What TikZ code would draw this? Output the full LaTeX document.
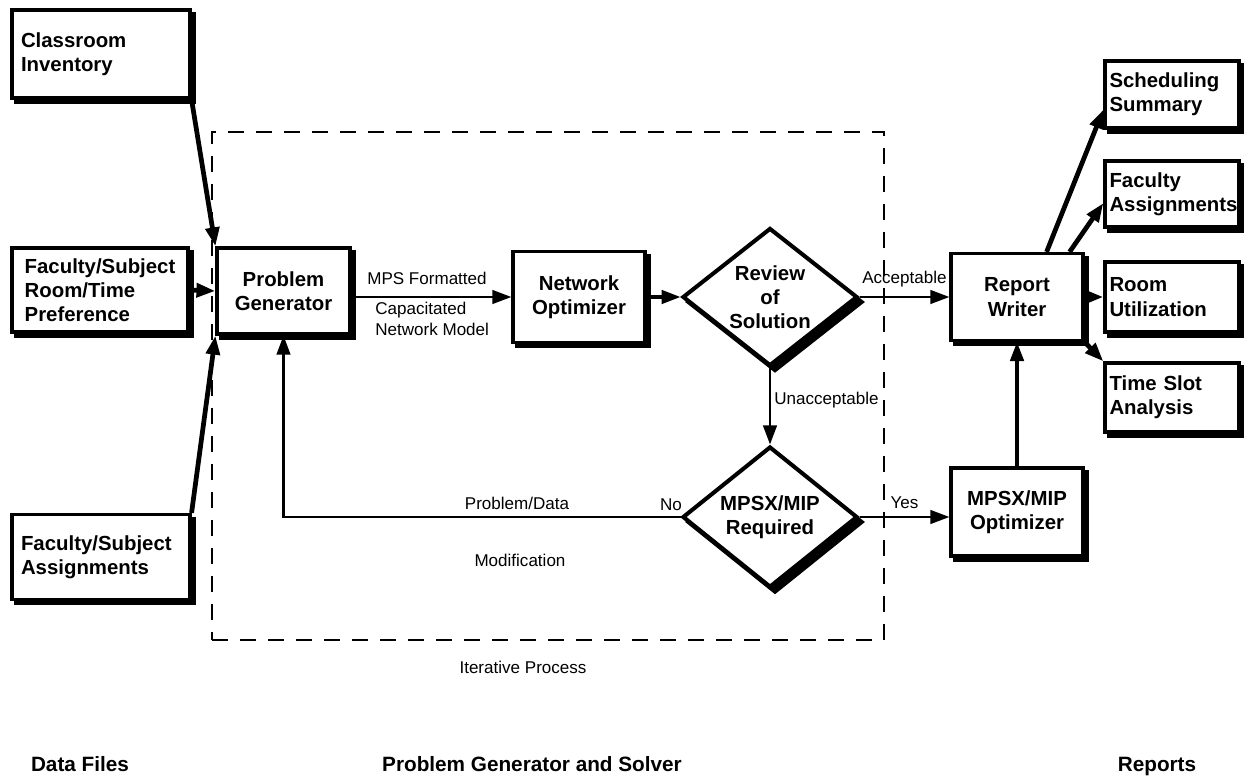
\documentclass[tikz,border=0pt]{standalone}
\usepackage{fontspec}
\setmainfont{Liberation Sans}
\usetikzlibrary{arrows.meta,shapes.geometric,shadows}

\begin{document}
\begin{tikzpicture}[x=0.02cm,y=-0.02cm,
  boxfont/.style={font=\bfseries\fontsize{11.6}{13.8}\selectfont},
  lbl/.style={font=\fontsize{9.7}{11.6}\selectfont, inner sep=0pt},
  box/.style={draw, fill=white, line width=1.8pt, boxfont, inner ysep=0pt,
     copy shadow={shadow xshift=0.08cm, shadow yshift=-0.08cm, fill=black, draw=black}},
  lbox/.style={box, align=left},
  cbox/.style={box, align=center},
  decision/.style={diamond, draw, fill=white, line width=2.3pt, boxfont, align=center,
     inner sep=0pt, aspect=1.25, minimum width=3.5cm,
     copy shadow={shadow xshift=0.1cm, shadow yshift=-0.1cm, fill=black, draw=black}},
  arr/.style={-{Triangle[length=0.38cm,width=0.27cm]}, line width=1.5pt},
  heavy/.style={arr, line width=2.7pt},
  dashbox/.style={draw, line width=1pt, dash pattern=on 0.32cm off 0.24cm, inner sep=0pt},
  caption/.style={font=\bfseries\fontsize{11.8}{13.8}\selectfont, inner sep=0pt, anchor=base}
]
\useasboundingbox (0,0) rectangle (1244,780);

% iterative process frame
\node[dashbox, minimum width=13.44cm, minimum height=10.16cm] (iter) at (548,386) {};
\node[lbl] (iterlbl) at (523,667) {Iterative Process};

% data files
\node[lbox, text width=3.2cm, inner xsep=0.18cm, minimum height=1.76cm] (ci) at (101,54)
  {Classroom\\Inventory};
\node[lbox, minimum width=3.52cm, minimum height=1.68cm] (frtp) at (100,290)
  {Faculty/Subject\\Room/Time\\Preference};
\node[lbox, text width=3.2cm, inner xsep=0.18cm, minimum height=1.7cm] (fsa) at (101,557)
  {Faculty/Subject\\Assignments};

% process
\node[cbox, minimum width=2.66cm, minimum height=1.72cm] (pg) at (283.5,291) {Problem\\Generator};
\node[cbox, minimum width=2.64cm, minimum height=1.82cm] (no) at (579,297) {Network\\Optimizer};
\node[decision, minimum height=2.76cm] (rev) at (770,297) {Review\\of\\Solution};
\node[decision, minimum height=2.82cm] (mpsx) at (770,517) {MPSX/MIP\\Required};
\node[cbox, minimum width=2.64cm, minimum height=1.74cm] (rw) at (1017,297) {Report\\Writer};
\node[cbox, minimum width=2.64cm, minimum height=1.76cm] (mo) at (1017,512) {MPSX/MIP\\Optimizer};

% reports
\node[lbox, text width=2.5cm, inner xsep=0.09cm, minimum height=1.34cm] (ss) at (1172,94.5)
  {Scheduling\\Summary};
\node[lbox, text width=2.5cm, inner xsep=0.09cm, minimum height=1.32cm] (fa) at (1172,194)
  {Faculty\\Assignments};
\node[lbox, text width=2.5cm, inner xsep=0.09cm, minimum height=1.4cm] (ru) at (1172,297)
  {Room\\Utilization};
\node[lbox, text width=2.5cm, inner xsep=0.09cm, minimum height=1.38cm] (ts) at (1172,397.5)
  {Time Slot\\Analysis};

% connectors into the problem generator
\draw[heavy] (ci.south east) -- (pg.north west);
\draw[heavy] (frtp.east) -- (pg.west);
\draw[heavy] (fsa.north east) -- (pg.south west);

% main flow
\draw[arr] (pg.east |- no.west) -- (no.west);
\node[lbl] (mpslbl) at (427,278) {MPS Formatted};
\node[lbl, anchor=west, align=left] (caplbl) at (375,319) {Capacitated\\Network Model};
\draw[arr, line width=1.9pt] (no.east) -- (rev.west);
\draw[arr] (rev.east) -- node[lbl, above=0.17cm] (acclbl) {Acceptable} (rw.west);
\draw[arr] (rev.south) -- node[lbl, right=0.06cm, pos=0.42] (unacclbl) {Unacceptable} (mpsx.north);
\draw[arr] (mpsx.east) -- node[lbl, above=0.15cm] (yeslbl) {Yes} (mpsx.east -| mo.west);
\draw[arr] (mpsx.west) -| (pg.south);
\node[lbl] (nolbl) at (671,505) {No};
\node[lbl] (pdlbl) at (517,503) {Problem/Data};
\node[lbl] (modlbl) at (520,560) {Modification};
\draw[arr, line width=1.9pt] (mo.north) -- (rw.south);

% report writer outputs
\draw[heavy] ([xshift=-0.76cm]rw.north east) -- ([yshift=-0.3cm]ss.west);
\draw[heavy] ([xshift=-0.3cm]rw.north east) -- ([yshift=-0.18cm]fa.west);
\draw[heavy] (rw.east) -- (ru.west);
\draw[heavy] (rw.south east) -- (ts.north west);

% section captions
\node[caption] (cap1) at (80,771) {Data Files};
\node[caption] (cap2) at (532,771) {Problem Generator and Solver};
\node[caption] (cap3) at (1157,771) {Reports};
\end{tikzpicture}
\end{document}
